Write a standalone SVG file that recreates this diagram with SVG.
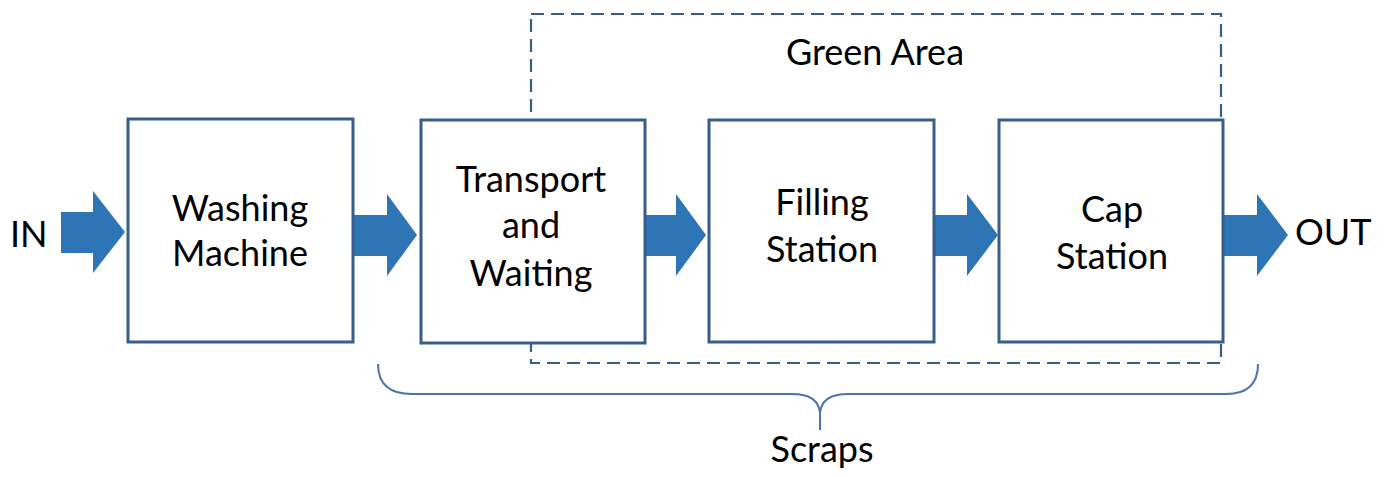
<svg xmlns="http://www.w3.org/2000/svg" width="1391" height="477" viewBox="0 0 1391 477">
<style>
.box{fill:#fff;stroke:#385D8A;stroke-width:3}
.arrow{fill:#2E75B6}
.t{font-family:Lato,"Liberation Sans",sans-serif;font-size:36px;fill:#000;text-anchor:middle}
.dash{fill:none;stroke:#385D8A;stroke-width:2.2;stroke-dasharray:13 7}
.brace{fill:none;stroke:#4A74AE;stroke-width:2}
</style>
<rect width="1391" height="477" fill="#fff"/>
<g id="green-area">
<rect class="dash" x="531" y="14" width="690" height="349"/>
<text class="t" x="875" y="65">Green Area</text>
</g>
<g id="connectors">
<path class="arrow" d="M61,212 L93,212 L93,191 L125,232 L93,273 L93,253 L61,253 Z"/>
<path class="arrow" d="M353,215 L387,215 L387,194 L417,235 L387,276 L387,256 L353,256 Z"/>
<path class="arrow" d="M645,215 L676,215 L676,194 L706,235 L676,276 L676,256 L645,256 Z"/>
<path class="arrow" d="M933,215 L967,215 L967,194 L998,235 L967,276 L967,256 L933,256 Z"/>
<path class="arrow" d="M1223,215 L1257,215 L1257,194 L1288,235 L1257,276 L1257,256 L1223,256 Z"/>
</g>
<g id="in"><text class="t" x="10" y="247" style="text-anchor:start">IN</text></g>
<g id="washing">
<rect class="box" x="128" y="119" width="225" height="223"/>
<text class="t" x="240" y="221">Washing</text>
<text class="t" x="240" y="266">Machine</text>
</g>
<g id="transport">
<rect class="box" x="421" y="120" width="224" height="223"/>
<text class="t" x="531" y="192">Transport</text>
<text class="t" x="531" y="238">and</text>
<text class="t" x="531" y="286">Waiting</text>
</g>
<g id="filling">
<rect class="box" x="709" y="120" width="225" height="222"/>
<text class="t" x="822" y="215">Filling</text>
<text class="t" x="822" y="262">Station</text>
</g>
<g id="cap">
<rect class="box" x="999" y="120" width="224" height="222"/>
<text class="t" x="1112" y="222">Cap</text>
<text class="t" x="1112" y="269">Station</text>
</g>
<g id="out"><text class="t" x="1295" y="245" style="text-anchor:start">OUT</text></g>
<g id="scraps">
<path class="brace" d="M378,364 C378,384 390,394 412,394 L792,394 C810,394 819,401 820,413 L820,430 M820,413 C821,401 830,394 848,394 L1226,394 C1248,394 1258,384 1258,364"/>
<text class="t" x="822" y="462">Scraps</text>
</g>
</svg>
